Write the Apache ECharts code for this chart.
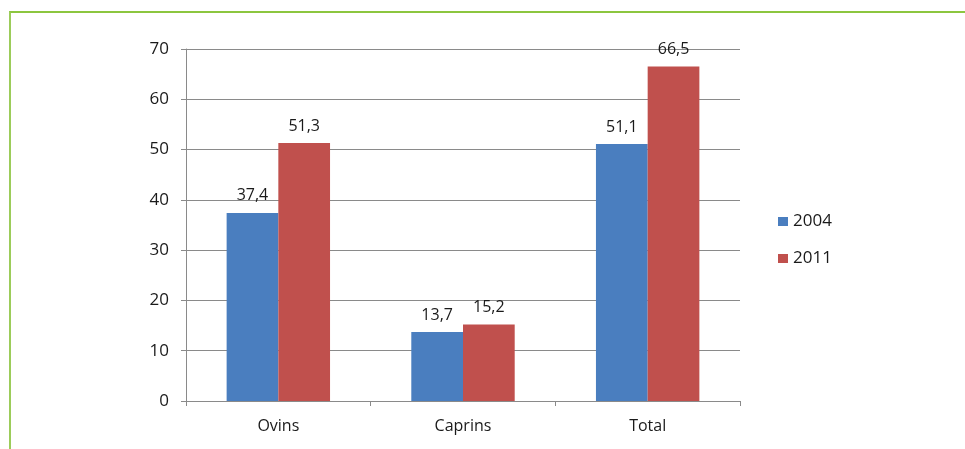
<!DOCTYPE html>
<html>
<head>
<meta charset="utf-8">
<script src="https://cdn.jsdelivr.net/npm/echarts@6/dist/echarts.min.js"></script>
<style>
html,body{margin:0;padding:0;background:#fff;}
#frame{position:absolute;left:9px;top:11px;width:956px;height:438px;border-top:2px solid #8cc63f;border-left:2px solid #9ccc5a;box-sizing:border-box;}
#chart{position:absolute;left:0;top:0;width:965px;height:449px;}
</style>
</head>
<body>
<div id="frame"></div>
<div id="chart"></div>
<script>
var categories = ['Ovins', 'Caprins', 'Total'];
var seriesNames = ['2004', '2011'];
var values2004 = [37.4, 13.7, 51.1];
var values2011 = [51.3, 15.2, 66.5];
var yTicks = [0, 10, 20, 30, 40, 50, 60, 70];

var font = '"Open Sans", "Liberation Sans", sans-serif';
var chart = echarts.init(document.getElementById('chart'), null, {renderer: 'canvas'});
function lbl(p){ return String(p.value).replace('.', ','); }
chart.setOption({
  animation: false,
  backgroundColor: 'transparent',
  grid: {left: 186, right: 225, top: 49, bottom: 48, containLabel: false},
  legend: {
    orient: 'vertical', left: 773, top: 208,
    itemWidth: 10, itemHeight: 9, itemGap: 20, icon: 'rect',
    textStyle: {fontFamily: font, fontSize: 17, color: '#1a1a1a'},
    data: seriesNames
  },
  xAxis: {
    type: 'category', data: categories,
    axisLine: {lineStyle: {color: '#8a8a8a', width: 1}},
    axisTick: {show: true, length: 5, lineStyle: {color: '#8a8a8a'}},
    axisLabel: {fontFamily: font, fontSize: 16, color: '#1a1a1a', margin: 17}
  },
  yAxis: {
    type: 'value', min: yTicks[0], max: yTicks[yTicks.length-1], interval: 10,
    axisLine: {show: true, lineStyle: {color: '#8a8a8a', width: 1}},
    axisTick: {show: true, length: 5, lineStyle: {color: '#8a8a8a'}},
    splitLine: {lineStyle: {color: '#8a8a8a', width: 1}},
    axisLabel: {fontFamily: font, fontSize: 17, color: '#1a1a1a', margin: 17}
  },
  series: [
    {name: seriesNames[0], type: 'bar', data: values2004, barGap: '0%', barCategoryGap: '44%',
     itemStyle: {color: '#4a7ebf'},
     label: {show: true, position: 'top', distance: 9, formatter: lbl, fontFamily: font, fontSize: 16, color: '#1a1a1a'}},
    {name: seriesNames[1], type: 'bar', data: values2011, barGap: '0%', barCategoryGap: '44%',
     itemStyle: {color: '#c0504d'},
     label: {show: true, position: 'top', distance: 9, formatter: lbl, fontFamily: font, fontSize: 16, color: '#1a1a1a'}}
  ]
});
</script>
</body>
</html>
